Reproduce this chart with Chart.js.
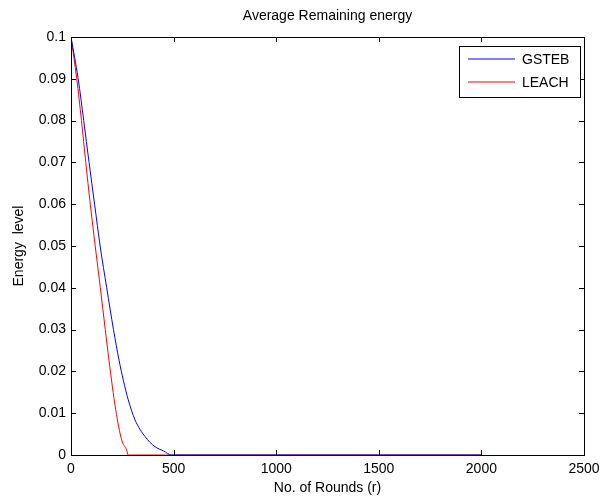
<!DOCTYPE html>
<html>
<head>
<meta charset="utf-8">
<script src="https://cdn.jsdelivr.net/npm/chart.js@4"></script>
<style>
  html, body { margin: 0; padding: 0; background: #fff; }
  #wrap { width: 613px; height: 497px; }
</style>
</head>
<body>
<div id="wrap"><canvas id="chart" width="613" height="497"></canvas></div>
<script>
const gstebRounds = [0, 35, 62, 88, 115, 142, 174, 207, 234, 255, 279, 312, 361, 409, 450, 490, 1000, 1500, 2000]
const gstebEnergy = [0.1, 0.09, 0.08, 0.07, 0.06, 0.05, 0.04, 0.03, 0.0227, 0.0179, 0.0132, 0.0084, 0.0044, 0.002, 0.001, 0, 0, 0, 0]
const leachRounds = [0, 28, 51, 72, 94, 118, 143, 167, 185, 218, 247, 271, 279, 1000, 1500, 2000]
const leachEnergy = [0.1, 0.09, 0.08, 0.07, 0.06, 0.05, 0.04, 0.03, 0.0227, 0.0108, 0.0036, 0.0012, 0, 0, 0, 0]
const xTicks = [0, 500, 1000, 1500, 2000, 2500]
const yTicks = [0, 0.01, 0.02, 0.03, 0.04, 0.05, 0.06, 0.07, 0.08, 0.09, 0.1]

const fontFam = '"Liberation Sans", Arial, Helvetica, sans-serif'
const fontSize = 14

function toPoints(xs, ys) {
    return xs.map((x, i) => ({ x: x, y: ys[i] }))
}

// matlab style box with inward ticks + boxed legend
const matlabFrame = {
    id: 'matlabFrame',
    afterDatasetsDraw(chart) {
        let ctx = chart.ctx
        let a = chart.chartArea
        let xs = chart.scales.x
        let ys = chart.scales.y
        ctx.save()
        ctx.strokeStyle = '#000'
        ctx.lineWidth = 1
        ctx.beginPath()
        xTicks.forEach(v => {
            let px = Math.round(xs.getPixelForValue(v)) + 0.5
            ctx.moveTo(px, a.bottom); ctx.lineTo(px, a.bottom - 5)
            ctx.moveTo(px, a.top); ctx.lineTo(px, a.top + 5)
        })
        yTicks.forEach(v => {
            let py = Math.round(ys.getPixelForValue(v)) + 0.5
            ctx.moveTo(a.left, py); ctx.lineTo(a.left + 5, py)
            ctx.moveTo(a.right, py); ctx.lineTo(a.right - 5, py)
        })
        ctx.stroke()
        ctx.strokeRect(Math.round(a.left) + 0.5, Math.round(a.top) + 0.5,
            Math.round(a.right - a.left), Math.round(a.bottom - a.top))

        // legend
        let lx = Math.round(a.right) - 125, ly = Math.round(a.top) + 9, lw = 121, lh = 51
        ctx.fillStyle = '#fff'
        ctx.fillRect(lx, ly, lw, lh)
        ctx.strokeRect(lx + 0.5, ly + 0.5, lw, lh)
        ctx.font = fontSize + 'px ' + fontFam
        ctx.textBaseline = 'middle'
        chart.data.datasets.forEach((ds, i) => {
            let y = ly + 13 + i * 23
            ctx.strokeStyle = ds.borderColor
            ctx.beginPath()
            ctx.moveTo(lx + 9, y); ctx.lineTo(lx + 56, y)
            ctx.stroke()
            ctx.fillStyle = '#000'
            ctx.fillText(ds.label, lx + 63, y + 1)
        })
        ctx.restore()
    }
}

new Chart(document.getElementById('chart'), {
    type: 'line',
    data: {
        datasets: [{
            label: 'GSTEB',
            data: toPoints(gstebRounds, gstebEnergy),
            borderColor: 'rgb(0, 0, 255)',
            borderWidth: 1,
            pointRadius: 0,
            cubicInterpolationMode: 'monotone',
            fill: false
        }, {
            label: 'LEACH',
            data: toPoints(leachRounds, leachEnergy),
            borderColor: 'rgb(255, 0, 0)',
            borderWidth: 1,
            pointRadius: 0,
            cubicInterpolationMode: 'monotone',
            fill: false
        }]
    },
    options: {
        responsive: false,
        animation: false,
        layout: { padding: { left: 0, right: 29, top: 0, bottom: 0 } },
        plugins: {
            legend: { display: false },
            tooltip: { enabled: false },
            title: {
                display: true,
                fullSize: false,
                text: 'Average Remaining energy',
                color: '#000',
                font: { family: fontFam, size: fontSize, weight: 'normal' },
                padding: { top: 8, bottom: 12.2 }
            }
        },
        scales: {
            x: {
                type: 'linear',
                min: 0,
                max: 2500,
                afterBuildTicks: s => { s.ticks = xTicks.map(v => ({ value: v })) },
                afterFit: s => { s.height = 42 },
                grid: { display: true, drawOnChartArea: false, drawTicks: false },
                border: { display: false },
                ticks: {
                    color: '#000',
                    padding: 6,
                    font: { family: fontFam, size: fontSize },
                    callback: v => String(v)
                },
                title: {
                    display: true,
                    text: 'No. of Rounds (r)',
                    color: '#000',
                    padding: 0,
                    font: { family: fontFam, size: fontSize }
                }
            },
            y: {
                min: 0,
                max: 0.1,
                afterBuildTicks: s => { s.ticks = yTicks.map(v => ({ value: v })) },
                afterFit: s => { s.width = 71 },
                grid: { display: true, drawOnChartArea: false, drawTicks: false },
                border: { display: false },
                ticks: {
                    color: '#000',
                    padding: 5,
                    font: { family: fontFam, size: fontSize },
                    callback: v => String(parseFloat(v.toFixed(2)))
                },
                title: {
                    display: true,
                    text: 'Energy  level',
                    color: '#000',
                    padding: { top: 11, bottom: 0 },
                    font: { family: fontFam, size: fontSize }
                }
            }
        }
    },
    plugins: [matlabFrame]
})
</script>
</body>
</html>
